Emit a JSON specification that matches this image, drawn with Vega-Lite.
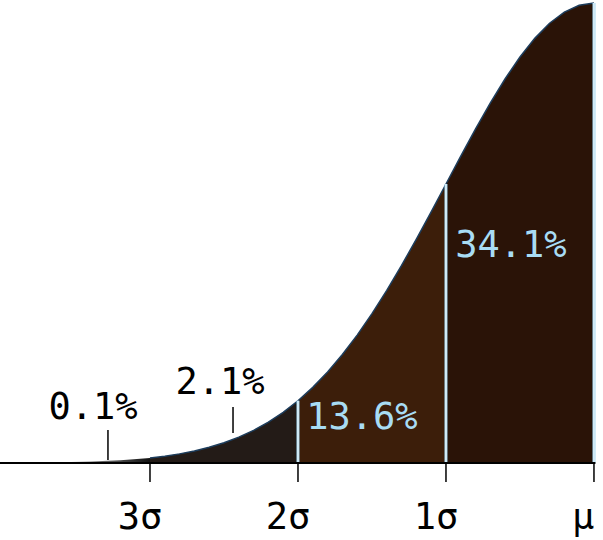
{
  "$schema": "https://vega.github.io/schema/vega-lite/v6.json",
  "width": 603,
  "height": 540,
  "autosize": "none",
  "padding": 0,
  "background": "white",
  "config": {"view": {"stroke": null}},
  "datasets": {
    "curve": [
      {"band": "a", "x": 0.0, "y": 1.0},
      {"band": "a", "x": -0.1, "y": 0.99501},
      {"band": "a", "x": -0.2, "y": 0.9802},
      {"band": "a", "x": -0.3, "y": 0.956},
      {"band": "a", "x": -0.4, "y": 0.92312},
      {"band": "a", "x": -0.5, "y": 0.8825},
      {"band": "a", "x": -0.6, "y": 0.83527},
      {"band": "a", "x": -0.7, "y": 0.7827},
      {"band": "a", "x": -0.8, "y": 0.72615},
      {"band": "a", "x": -0.9, "y": 0.66698},
      {"band": "a", "x": -1.0, "y": 0.60653},
      {"band": "b", "x": -1.0, "y": 0.60653},
      {"band": "b", "x": -1.1, "y": 0.54607},
      {"band": "b", "x": -1.2, "y": 0.48675},
      {"band": "b", "x": -1.3, "y": 0.42956},
      {"band": "b", "x": -1.4, "y": 0.37531},
      {"band": "b", "x": -1.5, "y": 0.32465},
      {"band": "b", "x": -1.6, "y": 0.27804},
      {"band": "b", "x": -1.7, "y": 0.23575},
      {"band": "b", "x": -1.8, "y": 0.1979},
      {"band": "b", "x": -1.9, "y": 0.16447},
      {"band": "b", "x": -2.0, "y": 0.13534},
      {"band": "c", "x": -2.0, "y": 0.13534},
      {"band": "c", "x": -2.1, "y": 0.11025},
      {"band": "c", "x": -2.2, "y": 0.08892},
      {"band": "c", "x": -2.3, "y": 0.07101},
      {"band": "c", "x": -2.4, "y": 0.05613},
      {"band": "c", "x": -2.5, "y": 0.04394},
      {"band": "c", "x": -2.6, "y": 0.03405},
      {"band": "c", "x": -2.7, "y": 0.02612},
      {"band": "c", "x": -2.8, "y": 0.01984},
      {"band": "c", "x": -2.9, "y": 0.01492},
      {"band": "c", "x": -3.0, "y": 0.01111},
      {"band": "d", "x": -3.0, "y": 0.01111},
      {"band": "d", "x": -3.2, "y": 0.00598},
      {"band": "d", "x": -3.4, "y": 0.00309},
      {"band": "d", "x": -3.6, "y": 0.00153},
      {"band": "d", "x": -3.8, "y": 0.00073},
      {"band": "d", "x": -4.0, "y": 0.00034}
    ],
    "vlines": [
      {"x": 0.0, "y": 0, "y2": 1.0},
      {"x": -1.0, "y": 0, "y2": 0.6065},
      {"x": -2.0, "y": 0, "y2": 0.1353}
    ],
    "ticks": [
      {"x": 0.0, "y": 0, "y2": -0.0413},
      {"x": -1.0, "y": 0, "y2": -0.0413},
      {"x": -2.0, "y": 0, "y2": -0.0413},
      {"x": -3.0, "y": 0, "y2": -0.0413}
    ],
    "leaders": [
      {"x": -2.439, "y": 0.0652, "y2": 0.1217},
      {"x": -3.284, "y": 0.0065, "y2": 0.0717}
    ],
    "baseline": [
      {"x": -4.02, "x2": 0.01, "y": 0}
    ],
    "pct": [
      {"x": -0.561, "y": 0.4717, "text": "34.1%", "kind": "in"},
      {"x": -1.568, "y": 0.0978, "text": "13.6%", "kind": "in"},
      {"x": -2.527, "y": 0.1739, "text": "2.1%", "kind": "out"},
      {"x": -3.385, "y": 0.1196, "text": "0.1%", "kind": "out"}
    ],
    "axislabels": [
      {"x": -0.074, "y": -0.1196, "text": "μ"},
      {"x": -1.068, "y": -0.1196, "text": "1σ"},
      {"x": -2.068, "y": -0.1196, "text": "2σ"},
      {"x": -3.068, "y": -0.1196, "text": "3σ"}
    ]
  },
  "layer": [
    {
      "data": {"name": "curve"},
      "transform": [{"filter": "datum.band != 'd'"}],
      "mark": {"type": "area", "opacity": 1},
      "encoding": {
        "x": {"field": "x", "type": "quantitative", "scale": {"domain": [-4.0135, 0.061], "nice": false, "zero": false}, "axis": null},
        "y": {"field": "y", "type": "quantitative", "scale": {"domain": [-0.1674, 1.0065], "nice": false, "zero": false}, "axis": null},
        "y2": {"datum": 0},
        "color": {"field": "band", "type": "nominal", "scale": {"domain": ["a", "b", "c"], "range": ["#2a1307", "#3c1e0a", "#231b17"]}, "legend": null}
      }
    },
    {
      "data": {"name": "curve"},
      "transform": [{"filter": "datum.band == 'd'"}],
      "mark": {"type": "area", "color": {"gradient": "linear", "x1": 0, "x2": 1, "y1": 0, "y2": 0, "stops": [{"offset": 0, "color": "#ffffff"}, {"offset": 0.55, "color": "#888888"}, {"offset": 1, "color": "#111111"}]}},
      "encoding": {
        "x": {"field": "x", "type": "quantitative"},
        "y": {"field": "y", "type": "quantitative"},
        "y2": {"datum": 0}
      }
    },
    {
      "data": {"name": "curve"},
      "transform": [{"filter": "datum.band != 'd'"}],
      "mark": {"type": "line", "color": "#1d3d5c", "strokeWidth": 1.5},
      "encoding": {
        "x": {"field": "x", "type": "quantitative"},
        "y": {"field": "y", "type": "quantitative"},
        "order": {"field": "x", "type": "quantitative"}
      }
    },
    {
      "data": {"name": "vlines"},
      "mark": {"type": "rule", "color": "#9fd4ee", "strokeWidth": 3},
      "encoding": {
        "x": {"field": "x", "type": "quantitative"},
        "y": {"field": "y", "type": "quantitative"},
        "y2": {"field": "y2"}
      }
    },
    {
      "data": {"name": "vlines"},
      "mark": {"type": "rule", "color": "#ffffff", "strokeWidth": 1},
      "encoding": {
        "x": {"field": "x", "type": "quantitative"},
        "y": {"field": "y", "type": "quantitative"},
        "y2": {"field": "y2"}
      }
    },
    {
      "data": {"name": "baseline"},
      "mark": {"type": "rule", "color": "#000000", "strokeWidth": 2},
      "encoding": {
        "x": {"field": "x", "type": "quantitative"},
        "x2": {"field": "x2"},
        "y": {"field": "y", "type": "quantitative"}
      }
    },
    {
      "data": {"name": "ticks"},
      "mark": {"type": "rule", "color": "#000000", "strokeWidth": 1.5},
      "encoding": {
        "x": {"field": "x", "type": "quantitative"},
        "y": {"field": "y", "type": "quantitative"},
        "y2": {"field": "y2"}
      }
    },
    {
      "data": {"name": "leaders"},
      "mark": {"type": "rule", "color": "#000000", "strokeWidth": 1.5},
      "encoding": {
        "x": {"field": "x", "type": "quantitative"},
        "y": {"field": "y", "type": "quantitative"},
        "y2": {"field": "y2"}
      }
    },
    {
      "data": {"name": "pct"},
      "mark": {"type": "text", "font": "DejaVu Sans Mono", "fontSize": 37, "align": "center", "baseline": "middle"},
      "encoding": {
        "x": {"field": "x", "type": "quantitative"},
        "y": {"field": "y", "type": "quantitative"},
        "text": {"field": "text"},
        "color": {"field": "kind", "type": "nominal", "scale": {"domain": ["in", "out"], "range": ["#a8dcf4", "#000000"]}, "legend": null}
      }
    },
    {
      "data": {"name": "axislabels"},
      "mark": {"type": "text", "font": "DejaVu Sans Mono", "fontSize": 37, "align": "center", "baseline": "middle", "color": "#000000"},
      "encoding": {
        "x": {"field": "x", "type": "quantitative"},
        "y": {"field": "y", "type": "quantitative"},
        "text": {"field": "text"}
      }
    }
  ],
  "resolve": {"scale": {"color": "independent"}}
}
